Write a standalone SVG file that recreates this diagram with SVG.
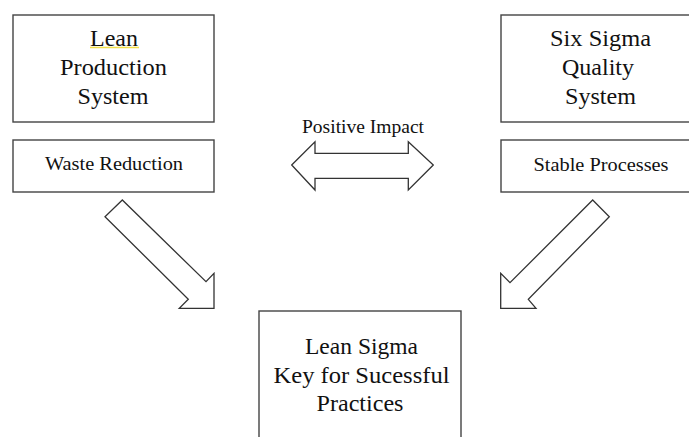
<svg xmlns="http://www.w3.org/2000/svg" width="689" height="437" viewBox="0 0 689 437">
<style>
.box{fill:#fff;stroke:#444;stroke-width:1.4}
.arr{fill:#fff;stroke:#333;stroke-width:1.3;stroke-linejoin:miter}
text{font-family:"Liberation Serif","Times New Roman",serif;fill:#111;text-anchor:middle}
.big{font-size:24px}
.mid{font-size:19.5px}
.sm{font-size:18px}
</style>
<rect width="689" height="437" fill="#fff"/>
<g id="lean">
<rect class="box" x="13" y="15" width="201" height="107"/>
<line x1="90" y1="47.5" x2="139" y2="47.5" stroke="#f2e04a" stroke-width="1.5"/>
<text class="big" x="114" y="46" textLength="48" lengthAdjust="spacingAndGlyphs">Lean</text>
<text class="big" x="113.5" y="75" textLength="107" lengthAdjust="spacingAndGlyphs">Production</text>
<text class="big" x="113" y="104" textLength="71" lengthAdjust="spacingAndGlyphs">System</text>
</g>
<g id="waste">
<rect class="box" x="13" y="140" width="201" height="52"/>
<text class="mid" x="114" y="170" textLength="138" lengthAdjust="spacingAndGlyphs">Waste Reduction</text>
</g>
<g id="sixsigma">
<rect class="box" x="501" y="15" width="200" height="107"/>
<text class="big" x="600.5" y="46" textLength="101" lengthAdjust="spacingAndGlyphs">Six Sigma</text>
<text class="big" x="598" y="75" textLength="72" lengthAdjust="spacingAndGlyphs">Quality</text>
<text class="big" x="600.5" y="104" textLength="71" lengthAdjust="spacingAndGlyphs">System</text>
</g>
<g id="stable">
<rect class="box" x="501" y="140" width="200" height="52"/>
<text class="mid" x="601" y="171" textLength="135" lengthAdjust="spacingAndGlyphs">Stable Processes</text>
</g>
<g id="leansigma">
<rect class="box" x="259" y="311" width="202" height="140"/>
<text class="big" x="361.5" y="354" textLength="113" lengthAdjust="spacingAndGlyphs">Lean Sigma</text>
<text class="big" x="361.5" y="383" textLength="176" lengthAdjust="spacingAndGlyphs">Key for Sucessful</text>
<text class="big" x="360" y="411" textLength="87" lengthAdjust="spacingAndGlyphs">Practices</text>
</g>
<g id="connectors">
<text class="sm" x="363" y="133" textLength="122" lengthAdjust="spacingAndGlyphs">Positive Impact</text>
<polygon class="arr" points="291.7,165 315,141.7 315,153.3 408.3,153.3 408.3,141.7 433.3,165 408.3,190 408.3,178.3 315,178.3 315,190"/>
<polygon class="arr" points="122.3,200 105,216.7 188.3,299.3 179.3,308.3 214,308.3 214,273.3 206,281.7"/>
<polygon class="arr" points="592.7,200 609.3,216.7 528.3,299.3 536,308.3 500.7,308.3 500.7,273.3 510,282.7"/>
</g>
</svg>
